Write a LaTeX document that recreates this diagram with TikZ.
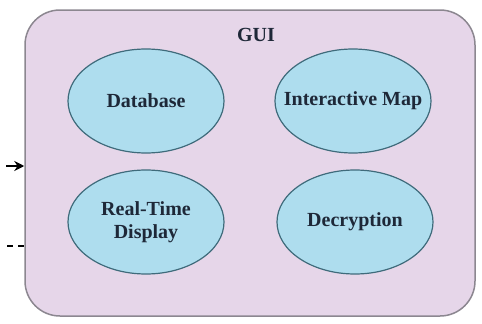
\documentclass[tikz,border=0pt]{standalone}
\usepackage{fontspec}
\setmainfont{Liberation Serif}
\usetikzlibrary{calc}
\usetikzlibrary{shapes.geometric}
\usetikzlibrary{arrows.meta}

\definecolor{guifill}{HTML}{E6D6E9}
\definecolor{guiline}{HTML}{8C8790}
\definecolor{modfill}{HTML}{AEDDEE}
\definecolor{modline}{HTML}{3F6B7B}
\definecolor{modtext}{HTML}{1E2838}

\tikzset{
    module/.style = {ellipse, draw = modline, fill = modfill, line width = 1.2pt,
        minimum width = 156pt, minimum height = 104pt, inner xsep = -25pt, inner ysep = 0pt,
        font = \fontsize{20}{23}\selectfont\bfseries, text = modtext, align = center},
    guibox/.style = {draw = guiline, fill = guifill, line width = 1.5pt,
        rounded corners = 35pt, minimum width = 450pt, minimum height = 306pt}
}

\begin{document}
\begin{tikzpicture}[x = 1pt, y = -1pt]
            \useasboundingbox (0, 0) rectangle (482, 324);

            \node [guibox] (gui) at (250, 163) {};
            \node [font = \fontsize{20}{23}\selectfont\bfseries, text = modtext] (title) at (256, 35) {GUI};

            \node [module] (db) at (146, 101) {Database};
            \node [module] (map) at (353, 101) {Interactive Map};
            \node [module] (rtd) at (146, 222) {Real-Time\\Display};
            \node [module] (dec) at (355, 222) {Decryption};

            \coordinate (in) at (6, 166);
            \coordinate (out) at (7, 246);

            \draw [-{Stealth[length = 10pt, width = 10pt]}, line width = 2pt] (in) -- (in -| gui.west);
            \draw [line width = 1.2pt, dash pattern = on 6pt off 5pt] (out) -- (out -| gui.west);
        \end{tikzpicture}
\end{document}
